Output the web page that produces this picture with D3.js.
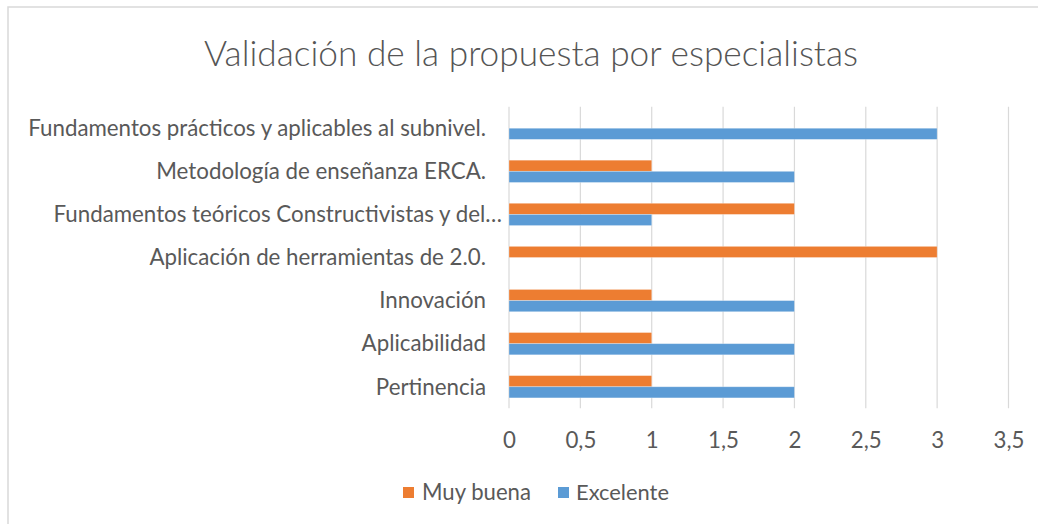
<!DOCTYPE html>
<html>
<head>
<meta charset="utf-8">
<script src="https://cdn.jsdelivr.net/npm/d3@7"></script>
<style>
  html, body { margin: 0; padding: 0; background: #fff; }
  svg { display: block; }
  text { font-family: Lato, "Open Sans", sans-serif; fill: #595959; }
</style>
</head>
<body>
<script>
// ---- Data (bottom to top as drawn) ----
const categories = [
  "Pertinencia",
  "Aplicabilidad",
  "Innovación",
  "Aplicación de herramientas de 2.0.",
  "Fundamentos teóricos Constructivistas y del…",
  "Metodología de enseñanza ERCA.",
  "Fundamentos prácticos y aplicables al subnivel."
];
const seriesNames = ["Muy buena", "Excelente"];
const muyBuena  = [1, 1, 1, 3, 2, 1, 0];
const excelente = [2, 2, 2, 0, 1, 2, 3];
const xTicks = [0, 0.5, 1, 1.5, 2, 2.5, 3, 3.5];
const tickLabels = ["0", "0,5", "1", "1,5", "2", "2,5", "3", "3,5"];
const colors = ["#ED7D31", "#5B9BD5"];
const title = "Validación de la propuesta por especialistas";

const W = 1038, H = 524;
const svg = d3.select("body").append("svg").attr("width", W).attr("height", H);

// chart border
svg.append("rect")
  .attr("x", 8).attr("y", 7).attr("width", W + 20).attr("height", H + 20)
  .attr("fill", "#fff").attr("stroke", "#d9d9d9").attr("stroke-width", 1.5);

const plot = { left: 509, right: 1008.5, top: 106.7, bottom: 408.3 };

const x = d3.scaleLinear().domain([0, 3.5]).range([plot.left, plot.right]);
const y = d3.scaleBand().domain(d3.range(categories.length).map(String))
  .range([plot.bottom, plot.top]).paddingInner(0.483).paddingOuter(0.2415);
const ySub = d3.scaleBand().domain(["0", "1"]).range([0, y.bandwidth()]);

// helper to fit font size to target width
function fit(sel, base, target) {
  sel.style("font-size", base + "px");
  const w = sel.node().getComputedTextLength();
  const s = base * target / w;
  sel.style("font-size", s + "px");
  return s;
}

// Title
const t = svg.append("text").attr("x", 531).attr("y", 66)
  .attr("text-anchor", "middle").style("font-weight", 300).style("fill", "#555").text(title);
fit(t, 30, 654);

// gridlines
const grid = svg.append("g");
grid.selectAll("line").data(xTicks).join("line")
  .attr("x1", d => x(d)).attr("x2", d => x(d))
  .attr("y1", plot.top).attr("y2", plot.bottom)
  .attr("stroke", "#d9d9d9").attr("stroke-width", 1.2);

// x axis labels via d3 axis
const xAxis = d3.axisBottom(x).tickValues(xTicks)
  .tickFormat((d, i) => tickLabels[i]).tickSize(0).tickPadding(0);
const gx = svg.append("g").attr("transform", `translate(0, 448)`).call(xAxis);
gx.select(".domain").remove();
gx.selectAll("text").attr("dy", 0).style("fill", "#595959")
  .style("font-family", "Lato, 'Open Sans', sans-serif");

// y axis labels
const yAxis = d3.axisLeft(y).tickFormat(i => categories[+i]).tickSize(0).tickPadding(0);
const gy = svg.append("g").attr("transform", `translate(486, 0)`).call(yAxis);
gy.select(".domain").remove();
gy.selectAll("text").style("fill", "#595959")
  .style("font-family", "Lato, 'Open Sans', sans-serif")
  .attr("dy", "0.35em");
// fit size from longest label
const longest = gy.selectAll("text").filter((d) => +d === 6);
const fs = fit(longest, 20, 458);
gy.selectAll("text").style("font-size", fs + "px");
gy.selectAll("text").filter(d => categories[+d].endsWith("…")).attr("x", 16);
gx.selectAll("text").style("font-size", fs + "px");

// bars
const data = [muyBuena, excelente];
const groups = svg.append("g").selectAll("g").data(data).join("g")
  .attr("fill", (d, s) => colors[s]);
groups.each(function(vals, s) {
  d3.select(this).selectAll("rect").data(vals).join("rect")
    .attr("x", x(0))
    .attr("y", (v, i) => y(String(i)) + ySub(String(s)))
    .attr("width", v => x(v) - x(0))
    .attr("height", ySub.bandwidth())
    .attr("stroke", "#ffffff").attr("stroke-opacity", 0.35).attr("stroke-width", 0.8);
});

// legend
const legend = svg.append("g");
const legendItems = [
  { name: seriesNames[0], color: colors[0], sx: 403, tx: 422, tw: 109 },
  { name: seriesNames[1], color: colors[1], sx: 558, tx: 576, tw: 93 }
];
legendItems.forEach(it => {
  legend.append("rect").attr("x", it.sx).attr("y", 487).attr("width", 11).attr("height", 11)
    .attr("fill", it.color);
  const lt = legend.append("text").attr("x", it.tx).attr("y", 500).text(it.name);
  fit(lt, 18, it.tw);
});
</script>
</body>
</html>
